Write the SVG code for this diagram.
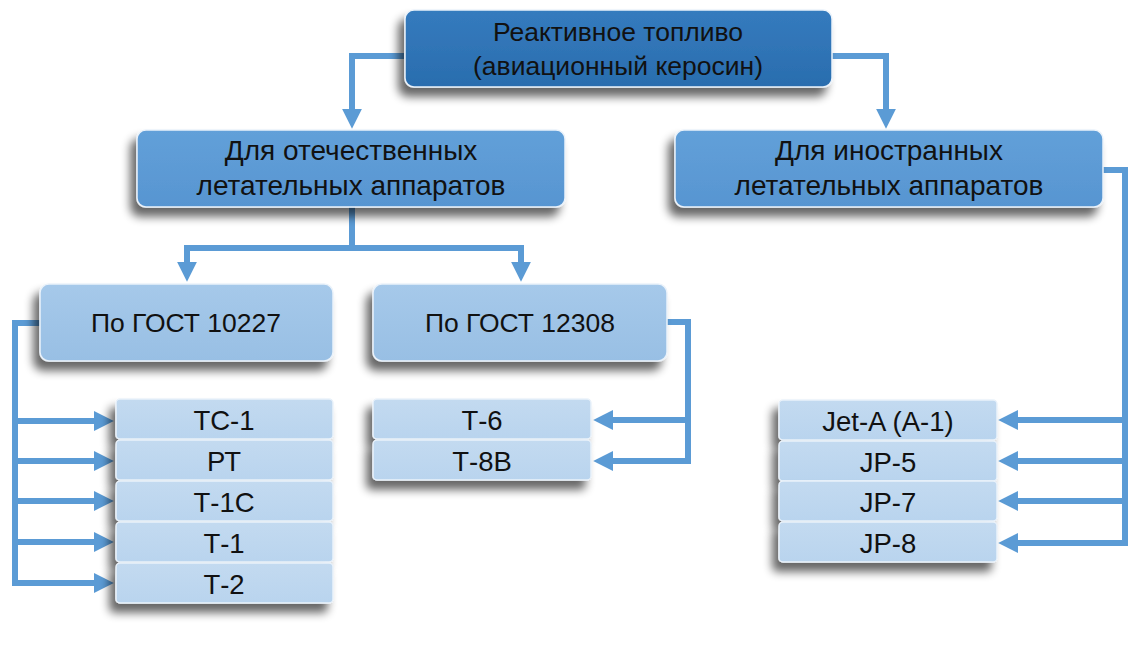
<svg xmlns="http://www.w3.org/2000/svg" width="1131" height="657" viewBox="0 0 1131 657">
<defs>
<filter id="sh" x="-20%" y="-30%" width="140%" height="180%">
<feGaussianBlur in="SourceAlpha" stdDeviation="5"/>
<feOffset dx="-6" dy="9" result="b"/>
<feComponentTransfer><feFuncA type="linear" slope="0.6"/></feComponentTransfer>
<feMerge><feMergeNode/><feMergeNode in="SourceGraphic"/></feMerge>
</filter>
<linearGradient id="g1" x1="0" y1="0" x2="0" y2="1"><stop offset="0" stop-color="#357BBE"/><stop offset="1" stop-color="#2A6DAE"/></linearGradient>
<linearGradient id="g2" x1="0" y1="0" x2="0" y2="1"><stop offset="0" stop-color="#62A0D9"/><stop offset="1" stop-color="#5795D1"/></linearGradient>
<linearGradient id="g3" x1="0" y1="0" x2="0" y2="1"><stop offset="0" stop-color="#A6C9EA"/><stop offset="1" stop-color="#98BFE4"/></linearGradient>
<linearGradient id="g4" x1="0" y1="0" x2="0" y2="1"><stop offset="0" stop-color="#C3DAF0"/><stop offset="1" stop-color="#B9D4EE"/></linearGradient>
<marker id="ah" viewBox="0 0 10 10" refX="1" refY="5" markerWidth="3.3" markerHeight="4" orient="auto" markerUnits="strokeWidth">
<path d="M0,0 L10,5 L0,10 z" fill="#5B9BD5"/>
</marker>
<style>
.box{stroke:#EAF2FA;stroke-width:1.5;filter:url(#sh)}
.b1{fill:url(#g1)}.b2{fill:url(#g2)}.b3{fill:url(#g3)}.b4{fill:url(#g4)}
text{font-family:"Liberation Sans","DejaVu Sans",sans-serif;fill:#111;text-anchor:middle}
.t1{font-size:26.5px}.t2{font-size:28px}.t3{font-size:26.5px}.t4{font-size:27.5px}
.c{fill:none;stroke:#5B9BD5;stroke-width:6;stroke-linejoin:miter}
.a{marker-end:url(#ah)}
</style>
</defs>
<g id="connectors">
<path class="c a" d="M404,56 H352 V111"/>
<path class="c a" d="M832,56 H886 V111"/>
<path class="c a" d="M352,207 V248 H187 V264"/>
<path class="c a" d="M352,248 H521 V264"/>
<path class="c a" d="M40,323 H15 V583 H96"/>
<path class="c a" d="M15,421 H96"/>
<path class="c a" d="M15,461 H96"/>
<path class="c a" d="M15,501 H96"/>
<path class="c a" d="M15,542 H96"/>
<path class="c a" d="M667,322 H688 V461 H611"/>
<path class="c a" d="M688,420 H611"/>
<path class="c a" d="M1103,170 H1125 V543 H1016"/>
<path class="c a" d="M1125,420 H1016"/>
<path class="c a" d="M1125,461 H1016"/>
<path class="c a" d="M1125,501 H1016"/>
</g>
<g id="root"><rect class="box b1" x="405" y="10" width="427" height="77" rx="9"/><text class="t1" x="618" y="41">Реактивное топливо</text><text class="t1" x="618" y="75">(авиационный керосин)</text></g>
<g id="domestic"><rect class="box b2" x="137" y="130" width="428" height="77" rx="9"/><text class="t2" x="351" y="160">Для отечественных</text><text class="t2" x="351" y="195">летательных аппаратов</text></g>
<g id="foreign"><rect class="box b2" x="675" y="130" width="428" height="77" rx="9"/><text class="t2" x="889" y="160">Для иностранных</text><text class="t2" x="889" y="195">летательных аппаратов</text></g>
<g id="gost10227"><rect class="box b3" x="40" y="284" width="293" height="77" rx="9"/><text class="t3" x="186" y="332">По ГОСТ 10227</text></g>
<g id="gost12308"><rect class="box b3" x="373" y="284" width="294" height="77" rx="9"/><text class="t3" x="520" y="332">По ГОСТ 12308</text></g>
<g id="tc1"><rect class="box b4" x="116" y="399" width="217" height="40" rx="4"/><text class="t4" x="224" y="430">ТС-1</text></g>
<g id="rt"><rect class="box b4" x="116" y="440" width="217" height="40" rx="4"/><text class="t4" x="224" y="471">РТ</text></g>
<g id="t1c"><rect class="box b4" x="116" y="481" width="217" height="40" rx="4"/><text class="t4" x="224" y="512">Т-1С</text></g>
<g id="t1"><rect class="box b4" x="116" y="522" width="217" height="40" rx="4"/><text class="t4" x="224" y="553">Т-1</text></g>
<g id="t2"><rect class="box b4" x="116" y="563" width="217" height="40" rx="4"/><text class="t4" x="224" y="594">Т-2</text></g>
<g id="t6"><rect class="box b4" x="373" y="399" width="218" height="40" rx="4"/><text class="t4" x="482" y="430">Т-6</text></g>
<g id="t8v"><rect class="box b4" x="373" y="440" width="218" height="40" rx="4"/><text class="t4" x="482" y="471">Т-8В</text></g>
<g id="jeta"><rect class="box b4" x="779" y="400" width="218" height="40" rx="4"/><text class="t4" x="888" y="431">Jet-A (A-1)</text></g>
<g id="jp5"><rect class="box b4" x="779" y="441" width="218" height="40" rx="4"/><text class="t4" x="888" y="472">JP-5</text></g>
<g id="jp7"><rect class="box b4" x="779" y="481" width="218" height="40" rx="4"/><text class="t4" x="888" y="512">JP-7</text></g>
<g id="jp8"><rect class="box b4" x="779" y="522" width="218" height="40" rx="4"/><text class="t4" x="888" y="553">JP-8</text></g>
</svg>
